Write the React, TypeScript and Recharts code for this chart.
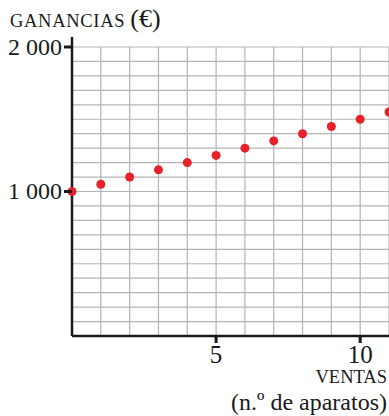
import React from "react";
import { ComposedChart, Scatter, XAxis, YAxis, CartesianGrid, ReferenceLine } from "recharts";

const sales = [0, 1, 2, 3, 4, 5, 6, 7, 8, 9, 10, 11];
const profits = [1000, 1050, 1100, 1150, 1200, 1250, 1300, 1350, 1400, 1450, 1500, 1550];
const xGridTicks = [0, 1, 2, 3, 4, 5, 6, 7, 8, 9, 10, 11];
const xLabelTicks = [5, 10];
const yGridTicks = [0, 100, 200, 300, 400, 500, 600, 700, 800, 900, 1000, 1100, 1200, 1300, 1400, 1500, 1600, 1700, 1800, 1900, 2000];
const yLabelTicks = [1000, 2000];
const yTickText: Record<number, string> = { 1000: "1 000", 2000: "2 000" };
const yTitle = "GANANCIAS";
const yTitleUnit = "(€)";
const xTitle1 = "VENTAS";
const xTitle2 = "(n.º de aparatos)";

const data = sales.map((s, i) => ({ sales: s, profit: profits[i] }));

const fontStyle: React.CSSProperties = { fontFamily: '"Liberation Serif", "DejaVu Serif", serif' };
const INK = "#1a1a1a";
const RED = "#e8202a";

const YTick = (props: any) => {
  const { x, y, payload } = props;
  if (!yLabelTicks.includes(payload.value)) return null;
  return (
    <g>
      <line x1={x - 8} x2={x} y1={y} y2={y} stroke={INK} strokeWidth={3} />
      <text x={x - 10} y={y} dy={7.5} textAnchor="end" style={fontStyle} fontSize={24} fill={INK}>
        {yTickText[payload.value]}
      </text>
    </g>
  );
};

const XTick = (props: any) => {
  const { x, y, payload } = props;
  if (!xLabelTicks.includes(payload.value)) return null;
  return (
    <g>
      <line x1={x} x2={x} y1={y} y2={y + 7} stroke={INK} strokeWidth={3} />
      <text x={x} y={y + 27} textAnchor="middle" style={fontStyle} fontSize={25} fill={INK}>
        {payload.value}
      </text>
    </g>
  );
};

const Dot = (props: any) => {
  const { cx, cy } = props;
  return <circle cx={cx} cy={cy} r={4.5} fill={RED} />;
};

export default function App() {
  return (
    <div style={{ position: "absolute", left: 0, top: 0, width: 389, height: 416, background: "#fff" }}>
      <ComposedChart width={389} height={416} data={data} margin={{ top: 47, right: 0, bottom: 0, left: 0 }}>
        <CartesianGrid stroke="#b4b4b4" strokeWidth={1.2} horizontal vertical />
        <XAxis
          dataKey="sales"
          type="number"
          domain={[0, 11]}
          ticks={xGridTicks}
          interval={0}
          height={80}
          tickSize={0}
          tickMargin={0}
          tickLine={false}
          axisLine={{ stroke: INK, strokeWidth: 2.5 }}
          tick={<XTick />}
          label={{
            content: () => (
              <g>
                <text x={387} y={383} textAnchor="end" style={fontStyle} fontSize={18.5} fill={INK}>
                  {xTitle1}
                </text>
                <text x={387} y={410} textAnchor="end" style={fontStyle} fontSize={24} fill={INK}>
                  {xTitle2}
                </text>
              </g>
            ),
          }}
        />
        <YAxis
          dataKey="profit"
          type="number"
          domain={[0, 2000]}
          ticks={yGridTicks}
          interval={0}
          width={72}
          tickSize={0}
          tickMargin={0}
          tickLine={false}
          axisLine={{ stroke: INK, strokeWidth: 2.5 }}
          tick={<YTick />}
          label={{
            content: () => (
              <text x={10} y={27} style={fontStyle} fill={INK}>
                <tspan fontSize={18.5} letterSpacing={0.7}>{yTitle}</tspan>
                <tspan fontSize={26} dx={5}>{yTitleUnit}</tspan>
              </text>
            ),
          }}
        />
        <ReferenceLine
          segment={[{ x: 0, y: 2000 }, { x: 0, y: 2070 }]}
          stroke={INK}
          strokeWidth={2.5}
          ifOverflow="visible"
        />
        <Scatter dataKey="profit" shape={<Dot />} isAnimationActive={false} />
      </ComposedChart>
    </div>
  );
}
